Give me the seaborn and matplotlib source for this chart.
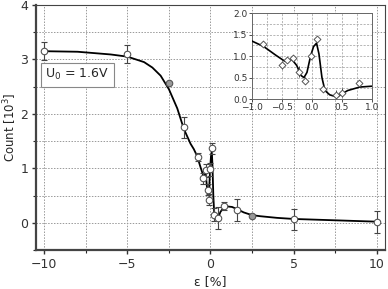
import numpy as np
import pandas as pd
import seaborn as sns
import matplotlib
matplotlib.use("Agg")
import matplotlib.pyplot as plt
from matplotlib.ticker import MultipleLocator

# measured points (main panel)
pt_x = [-10, -5, -1.6, -0.76, -0.46, -0.26, -0.16, -0.1, 0.0, 0.1, 0.24, 0.44, 0.84, 1.6, 5, 10]
pt_y = [3.15, 3.1, 1.75, 1.21, 0.82, 0.96, 0.61, 0.42, 0.98, 1.37, 0.15, 0.09, 0.31, 0.23, 0.06, 0.02]
pt_err = [0.17, 0.17, 0.2, 0.08, 0.1, 0.12, 0.1, 0.1, 0.12, 0.1, 0.12, 0.2, 0.08, 0.2, 0.2, 0.2]
# filled grey points (no error bar)
gray_x = [-2.5, 2.5]
gray_y = [2.57, 0.12]

# fitted curve
curve_x = [-10, -8, -6, -5, -4, -3.5, -3, -2.5, -2, -1.6, -1.2, -1.0, -0.8, -0.6, -0.45,
           -0.4, -0.33, -0.25, -0.18, -0.13, -0.08, -0.02, 0.03, 0.08, 0.12, 0.17, 0.22,
           0.3, 0.42, 0.5, 0.6, 0.8, 1.0, 1.3, 1.6, 2.0, 2.5, 3, 4, 5, 7, 10]
curve_y = [3.15, 3.14, 3.09, 3.05, 2.95, 2.85, 2.7, 2.45, 2.1, 1.72, 1.45, 1.35, 1.22, 1.02, 0.88,
           0.88, 0.92, 0.78, 0.55, 0.5, 0.62, 1.0, 1.22, 1.3, 1.05, 0.5, 0.2,
           0.1, 0.05, 0.12, 0.2, 0.28, 0.3, 0.29, 0.25, 0.19, 0.14, 0.12, 0.09, 0.07, 0.05, 0.02]

# inset points
in_x = [-0.81, -0.49, -0.41, -0.32, -0.22, -0.12, -0.02, 0.08, 0.19, 0.4, 0.5, 0.79]
in_y = [1.28, 0.79, 0.91, 0.95, 0.64, 0.43, 0.99, 1.39, 0.23, 0.09, 0.15, 0.37]
in_err = [0.06, 0.1, 0.05, 0.05, 0.12, 0.08, 0.05, 0.05, 0.06, 0.12, 0.1, 0.06]

sns.set_style("white")
plt.rcParams["font.family"] = ["DejaVu Sans"]

fig = plt.figure(figsize=(3.88, 2.89), dpi=100)
ax = fig.add_axes([0.093, 0.135, 0.899, 0.848])

grid_kw = dict(color="#999999", linestyle=(0, (1.5, 1.5)), linewidth=0.7)
sns.lineplot(x=curve_x, y=curve_y, ax=ax, color="black", linewidth=1.3, sort=False, zorder=3)
ax.errorbar(pt_x, pt_y, yerr=pt_err, fmt="none", ecolor="#444444", elinewidth=0.8,
            capsize=2, capthick=0.8, zorder=4)
sns.scatterplot(x=pt_x, y=pt_y, ax=ax, marker="o", s=22, facecolor="white",
                edgecolor="#555555", linewidth=0.8, zorder=5)
sns.scatterplot(x=gray_x, y=gray_y, ax=ax, marker="o", s=22, color="#999999",
                edgecolor="#555555", linewidth=0.8, zorder=5)

ax.set_xlim(-10.5, 10.5)
ax.set_ylim(-0.5, 4)
ax.xaxis.set_major_locator(MultipleLocator(5))
ax.xaxis.set_minor_locator(MultipleLocator(2.5))
ax.yaxis.set_major_locator(MultipleLocator(1))
ax.yaxis.set_minor_locator(MultipleLocator(0.5))
ax.grid(True, which="both", **grid_kw)
ax.tick_params(which="major", direction="out", length=3, width=1, labelsize=9, pad=2.5,
               bottom=True, left=True, colors="#333333")
ax.tick_params(which="minor", direction="out", length=2, width=0.8, bottom=True, left=True)
for side in ["left", "bottom"]:
    ax.spines[side].set_linewidth(1.6)
    ax.spines[side].set_color("#444444")
for side in ["top", "right"]:
    ax.spines[side].set_linewidth(0.8)
    ax.spines[side].set_color("#444444")
ax.set_xlabel("ε [%]", fontsize=9, labelpad=3)
ax.set_ylabel("Count [10$^3$]", fontsize=8.5, labelpad=1)
ax.text(-9.95, 2.72, "U$_0$ = 1.6V", fontsize=9, ha="left", va="center", zorder=6,
        bbox=dict(boxstyle="square,pad=0.35", facecolor="white", edgecolor="#888888", linewidth=0.8))

# inset
axi = fig.add_axes([0.649, 0.657, 0.309, 0.298])
inset_mask = [(-1.0 <= x <= 1.0) for x in curve_x]
cx = [x for x, m in zip(curve_x, inset_mask) if m]
cy = [y for y, m in zip(curve_y, inset_mask) if m]
sns.lineplot(x=cx, y=cy, ax=axi, color="black", linewidth=1.2, sort=False, zorder=3)
axi.errorbar(in_x, in_y, yerr=in_err, fmt="none", ecolor="#444444", elinewidth=0.7, zorder=4)
sns.scatterplot(x=in_x, y=in_y, ax=axi, marker="D", s=12, facecolor="white",
                edgecolor="#555555", linewidth=0.7, zorder=5)
axi.set_xlim(-1, 1)
axi.set_ylim(0, 2)
axi.xaxis.set_major_locator(MultipleLocator(0.5))
axi.xaxis.set_minor_locator(MultipleLocator(0.25))
axi.yaxis.set_major_locator(MultipleLocator(0.5))
axi.yaxis.set_minor_locator(MultipleLocator(0.25))
axi.grid(True, which="both", color="#999999", linestyle=(0, (3, 2)), linewidth=0.5)
axi.tick_params(which="major", direction="out", length=2, width=0.6, labelsize=6.5,
                bottom=True, left=True, pad=1, colors="#333333")
for s in axi.spines.values():
    s.set_linewidth(0.7)
    s.set_color("#666666")

fig.savefig("out.png", dpi=100)
